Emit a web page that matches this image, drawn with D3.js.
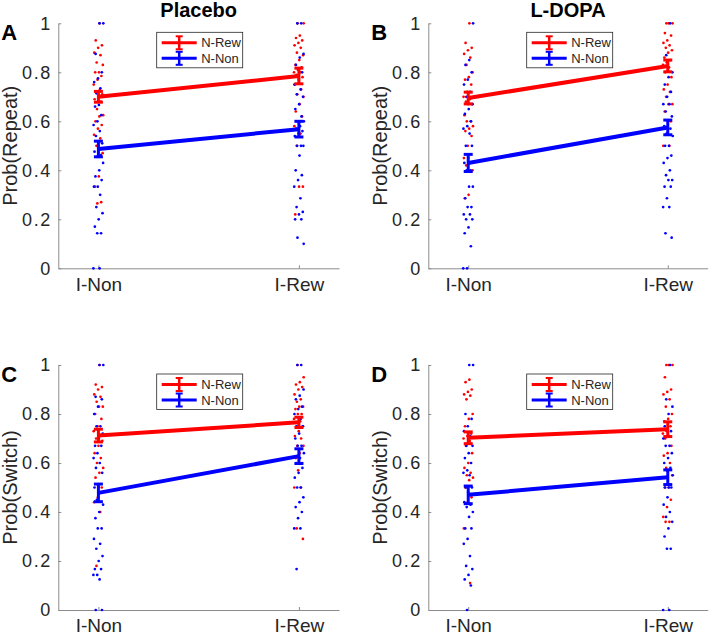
<!DOCTYPE html>
<html><head><meta charset="utf-8">
<script src="https://cdn.jsdelivr.net/npm/d3@7"></script>
<style>body{margin:0;background:#fff;}svg{display:block;font-family:"Liberation Sans",Arial,Helvetica,sans-serif;}</style>
</head><body>
<svg id="chart" width="710" height="637"></svg>
<script>
const categories = ["I-Non", "I-Rew"];
const yTicks = [0, 0.2, 0.4, 0.6, 0.8, 1];
const panelLetters = ["A", "B", "C", "D"];
const panelTitles = ["Placebo", "L-DOPA", "", ""];
const yLabels = ["Prob(Repeat)", "Prob(Repeat)", "Prob(Switch)", "Prob(Switch)"];
const seriesNames = ["N-Rew", "N-Non"];

// group means [I-Non, I-Rew] per panel
const nRewMean = [[0.700, 0.785], [0.695, 0.826], [0.712, 0.766], [0.703, 0.738]];
const nNonMean = [[0.487, 0.568], [0.430, 0.575], [0.478, 0.628], [0.470, 0.542]];
const nRewSem = [[0.022, 0.032], [0.024, 0.024], [0.026, 0.021], [0.024, 0.030]];
const nNonSem = [[0.032, 0.032], [0.035, 0.030], [0.036, 0.030], [0.036, 0.030]];

// individual subjects
const A_rew_non = [1.0, 0.93, 0.91, 0.9, 0.88, 0.87, 0.84, 0.83, 0.8, 0.8, 0.785, 0.77, 0.75, 0.73, 0.72, 0.71, 0.7, 0.69, 0.68, 0.65, 0.625, 0.62, 0.6, 0.585, 0.57, 0.545, 0.53, 0.5, 0.47, 0.375, 0.333, 0.27, 0.265];
const A_non_non = [1.0, 1.0, 0.875, 0.8, 0.775, 0.76, 0.735, 0.714, 0.7, 0.667, 0.66, 0.625, 0.6, 0.585, 0.56, 0.54, 0.51, 0.5, 0.476, 0.462, 0.455, 0.43, 0.4, 0.375, 0.36, 0.333, 0.333, 0.3, 0.25, 0.225, 0.2, 0.17, 0.143, 0.143, 0, 0];
const A_rew_rew = [1.0, 1.0, 0.95, 0.94, 0.93, 0.92, 0.91, 0.9, 0.88, 0.87, 0.85, 0.83, 0.82, 0.81, 0.8, 0.8, 0.79, 0.78, 0.77, 0.75, 0.73, 0.71, 0.7, 0.67, 0.64, 0.62, 0.6, 0.58, 0.55, 0.5, 0.333, 0.333, 0.22];
const A_non_rew = [1.0, 1.0, 0.875, 0.86, 0.83, 0.8, 0.78, 0.75, 0.73, 0.71, 0.7, 0.67, 0.65, 0.62, 0.6, 0.6, 0.58, 0.57, 0.56, 0.55, 0.54, 0.5, 0.5, 0.5, 0.46, 0.4, 0.38, 0.36, 0.333, 0.286, 0.25, 0.23, 0.22, 0.2, 0.2, 0.125, 0.1];
const B_rew_non = [1.0, 0.92, 0.9, 0.89, 0.875, 0.86, 0.83, 0.8, 0.78, 0.77, 0.75, 0.72, 0.7, 0.69, 0.68, 0.67, 0.67, 0.625, 0.6, 0.6, 0.58, 0.57, 0.56, 0.54, 0.5, 0.45, 0.43, 0.42, 0.4, 0.3, 0.286];
const B_non_non = [1.0, 0.85, 0.83, 0.8, 0.77, 0.75, 0.72, 0.7, 0.67, 0.65, 0.63, 0.6, 0.58, 0.57, 0.55, 0.5, 0.5, 0.45, 0.43, 0.4, 0.4, 0.333, 0.333, 0.286, 0.25, 0.25, 0.22, 0.22, 0.2, 0.2, 0.167, 0.143, 0.09, 0, 0];
const B_rew_rew = [1.0, 1.0, 1.0, 0.96, 0.95, 0.93, 0.92, 0.91, 0.9, 0.89, 0.88, 0.86, 0.85, 0.84, 0.83, 0.82, 0.8, 0.78, 0.75, 0.73, 0.72, 0.7, 0.67, 0.67, 0.64, 0.6, 0.55, 0.5, 0.5];
const B_non_rew = [1.0, 0.87, 0.8, 0.78, 0.75, 0.72, 0.7, 0.67, 0.67, 0.64, 0.62, 0.6, 0.58, 0.57, 0.55, 0.54, 0.5, 0.5, 0.46, 0.45, 0.43, 0.4, 0.38, 0.36, 0.36, 0.333, 0.333, 0.286, 0.25, 0.25, 0.143, 0.125];
const C_rew_non = [1.0, 0.92, 0.91, 0.9, 0.88, 0.87, 0.85, 0.83, 0.83, 0.8, 0.78, 0.75, 0.73, 0.71, 0.7, 0.69, 0.67, 0.64, 0.62, 0.6, 0.58, 0.56, 0.54, 0.5, 0.46, 0.44, 0.4, 0.18];
const C_non_non = [1.0, 1.0, 0.87, 0.86, 0.83, 0.8, 0.75, 0.75, 0.72, 0.7, 0.67, 0.67, 0.64, 0.62, 0.6, 0.58, 0.56, 0.5, 0.5, 0.48, 0.45, 0.43, 0.4, 0.375, 0.333, 0.333, 0.29, 0.27, 0.25, 0.22, 0.2, 0.167, 0.167, 0.143, 0.143, 0.125, 0, 0];
const C_rew_rew = [1.0, 0.95, 0.93, 0.92, 0.91, 0.9, 0.88, 0.86, 0.85, 0.83, 0.83, 0.82, 0.8, 0.8, 0.78, 0.77, 0.75, 0.75, 0.73, 0.71, 0.7, 0.67, 0.67, 0.64, 0.62, 0.6, 0.57, 0.5, 0.5, 0.333, 0.29];
const C_non_rew = [1.0, 1.0, 0.9, 0.875, 0.86, 0.83, 0.82, 0.8, 0.78, 0.75, 0.75, 0.72, 0.7, 0.67, 0.67, 0.64, 0.62, 0.6, 0.58, 0.56, 0.54, 0.5, 0.5, 0.46, 0.44, 0.42, 0.4, 0.375, 0.333, 0.333, 0.167];
const D_rew_non = [0.94, 0.93, 0.9, 0.89, 0.88, 0.875, 0.86, 0.8, 0.78, 0.75, 0.72, 0.71, 0.7, 0.69, 0.67, 0.64, 0.6, 0.58, 0.56, 0.55, 0.54, 0.53, 0.5, 0.46, 0.44, 0.333, 0.11];
const D_non_non = [1.0, 1.0, 0.8, 0.78, 0.75, 0.73, 0.71, 0.67, 0.67, 0.64, 0.62, 0.6, 0.57, 0.56, 0.55, 0.5, 0.5, 0.48, 0.44, 0.43, 0.42, 0.4, 0.38, 0.333, 0.333, 0.29, 0.27, 0.22, 0.18, 0.167, 0.143, 0.125, 0.1, 0];
const D_rew_rew = [1.0, 1.0, 1.0, 0.95, 0.9, 0.89, 0.88, 0.86, 0.83, 0.8, 0.78, 0.77, 0.75, 0.73, 0.72, 0.71, 0.7, 0.67, 0.64, 0.63, 0.6, 0.58, 0.55, 0.5, 0.5, 0.45, 0.42, 0.38, 0.36, 0.36];
const D_non_rew = [1.0, 0.86, 0.83, 0.8, 0.75, 0.73, 0.71, 0.7, 0.67, 0.67, 0.64, 0.62, 0.6, 0.58, 0.57, 0.55, 0.5, 0.5, 0.5, 0.46, 0.43, 0.4, 0.38, 0.36, 0.333, 0.3, 0.25, 0.25, 0, 0];

const subjRew = [[A_rew_non, A_rew_rew], [B_rew_non, B_rew_rew], [C_rew_non, C_rew_rew], [D_rew_non, D_rew_rew]];
const subjNon = [[A_non_non, A_non_rew], [B_non_non, B_non_rew], [C_non_non, C_non_rew], [D_non_non, D_non_rew]];

const RED = "#ff0000", BLUE = "#0000ff", AX = "#262626";
const svg = d3.select("#chart");

const layout = [
  {l: 58.3, r: 339, t: 23.3, b: 268.3},
  {l: 428.3, r: 707.7, t: 23.3, b: 268.3},
  {l: 58.3, r: 339, t: 365, b: 610},
  {l: 428.3, r: 707.7, t: 365, b: 610}
];

function jit(i, k) { return (((i + 1) * 0.6180339887 + k * 0.37) % 1) - 0.5; }

layout.forEach((p, pi) => {
  const x = d3.scaleLinear().domain([0.8, 2.2]).range([p.l, p.r]);
  const y = d3.scaleLinear().domain([0, 1]).range([p.b, p.t]);
  const g = svg.append("g");

  // axes
  const yAx = g.append("g").attr("transform", `translate(${p.l},0)`)
    .call(d3.axisLeft(y).tickValues(yTicks).tickFormat(d => d === 0 || d === 1 ? d3.format("d")(d) : d3.format(".1f")(d)).tickSizeInner(-3).tickSizeOuter(0).tickPadding(8));
  const xAx = g.append("g").attr("transform", `translate(0,${p.b})`)
    .call(d3.axisBottom(x).tickValues([1, 2]).tickFormat((d, i) => categories[i]).tickSizeInner(-3).tickSizeOuter(0).tickPadding(9));
  [yAx, xAx].forEach(a => {
    a.select(".domain").attr("stroke", "#8c8c8c").attr("stroke-width", 1);
    a.selectAll(".tick line").attr("stroke", "#8c8c8c");
    a.selectAll(".tick text").attr("fill", AX).attr("font-size", 19).attr("font-family", "Liberation Sans, Arial, sans-serif");
  });
  yAx.selectAll(".tick text").attr("font-size", 18).attr("letter-spacing", 1.6).attr("dx", 1.6);
  xAx.selectAll(".tick text").attr("dy", "0.71em");

  // subject dots
  [[subjRew[pi], RED, 0], [subjNon[pi], BLUE, 1]].forEach(([cols, col, k]) => {
    cols.forEach((vals, ci) => {
      g.append("g").selectAll("circle").data(vals).join("circle")
        .attr("cx", (d, i) => x(ci + 1 + jit(i, k + ci * 2) * 0.05))
        .attr("cy", d => y(d))
        .attr("r", 1.35)
        .attr("fill", col);
    });
  });

  // mean lines with error bars
  [[nNonMean[pi], nNonSem[pi], BLUE], [nRewMean[pi], nRewSem[pi], RED]].forEach(([m, s, col]) => {
    const pts = m.map((v, i) => ({x: i + 1, v, s: s[i]}));
    g.append("path").datum(pts)
      .attr("d", d3.line().x(d => x(d.x)).y(d => y(d.v)))
      .attr("stroke", col).attr("stroke-width", 4).attr("fill", "none");
    const eb = g.append("g").attr("stroke", col).attr("stroke-width", 3).attr("fill", "none");
    pts.forEach(d => {
      const cx = x(d.x);
      eb.append("line").attr("x1", cx).attr("x2", cx).attr("y1", y(d.v - d.s)).attr("y2", y(d.v + d.s));
      eb.append("line").attr("x1", cx - 4.5).attr("x2", cx + 4.5).attr("y1", y(d.v - d.s)).attr("y2", y(d.v - d.s));
      eb.append("line").attr("x1", cx - 4.5).attr("x2", cx + 4.5).attr("y1", y(d.v + d.s)).attr("y2", y(d.v + d.s));
    });
  });

  // legend
  const lx = p.l + 98.4, ly = p.t + 9;
  const lg = g.append("g").attr("transform", `translate(${lx},${ly})`);
  lg.append("rect").attr("width", 86).attr("height", 35.5).attr("fill", "#fff").attr("stroke", "#262626").attr("stroke-width", 0.8);
  [[RED, seriesNames[0], 10.5], [BLUE, seriesNames[1], 26]].forEach(([col, name, yy]) => {
    lg.append("line").attr("x1", 5).attr("x2", 40).attr("y1", yy).attr("y2", yy).attr("stroke", col).attr("stroke-width", 3);
    lg.append("line").attr("x1", 22.5).attr("x2", 22.5).attr("y1", yy - 6.5).attr("y2", yy + 6.5).attr("stroke", col).attr("stroke-width", 2.5);
    lg.append("line").attr("x1", 19).attr("x2", 26).attr("y1", yy - 6.5).attr("y2", yy - 6.5).attr("stroke", col).attr("stroke-width", 2);
    lg.append("line").attr("x1", 19).attr("x2", 26).attr("y1", yy + 6.5).attr("y2", yy + 6.5).attr("stroke", col).attr("stroke-width", 2);
    lg.append("text").attr("x", 44.5).attr("y", yy + 4.5).attr("font-size", 13).attr("fill", AX).text(name);
  });

  // y label
  g.append("text").attr("transform", `translate(${p.l - 41},${(p.t + p.b) / 2}) rotate(-90)`)
    .attr("text-anchor", "middle").attr("font-size", 20).attr("fill", AX).text(yLabels[pi]);

  // title
  if (panelTitles[pi]) {
    g.append("text").attr("x", (p.l + p.r) / 2).attr("y", p.t - 6).attr("text-anchor", "middle")
      .attr("font-size", 20).attr("font-weight", "bold").attr("fill", "#000").text(panelTitles[pi]);
  }
  // panel letter
  g.append("text").attr("x", p.l - 57).attr("y", p.t + 17).attr("font-size", 22).attr("font-weight", "bold").attr("fill", "#000").text(panelLetters[pi]);
});
</script>
</body></html>
